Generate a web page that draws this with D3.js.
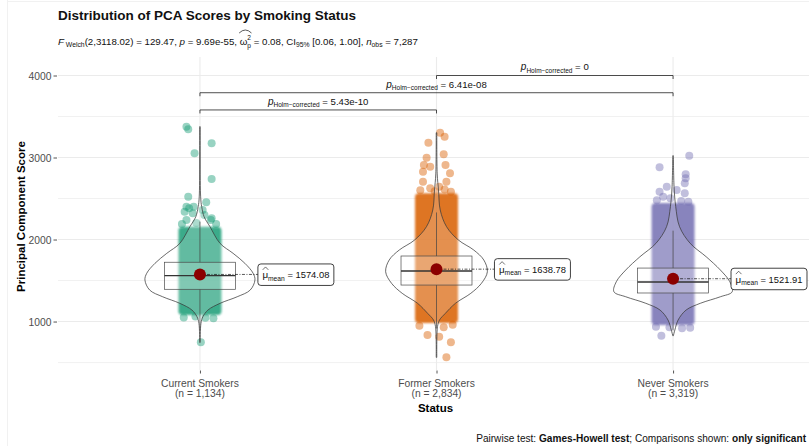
<!DOCTYPE html>
<html><head><meta charset="utf-8">
<script src="https://cdn.jsdelivr.net/npm/d3@7"></script>
<style>
body{margin:0;background:#fff}
svg{display:block}
text{font-family:"Liberation Sans",Arial,Helvetica,sans-serif;white-space:pre}
</style>
</head><body>
<svg id="chart" width="809" height="446"></svg>
<script>
// ---------------- DATA ----------------
const categories = ["Current Smokers", "Former Smokers", "Never Smokers"];
const groupN = ["1,134", "2,834", "3,319"];
const groupColors = ["#1b9e77", "#d95f02", "#7570b3"];
const means = [1574.08, 1638.78, 1521.91];
const meanLabels = ["1574.08", "1638.78", "1521.91"];
const medians = [1559, 1616, 1482];
const q1 = [1393, 1445, 1348];
const q3 = [1723, 1799, 1652];
const minVals = [746, 563, 827];
const maxVals = [3376, 3302, 3022];
// dense core of the jittered points (value range)
const coreLo = [1079, 982, 958];
const coreHi = [2156, 2563, 2445];
const yTicks = [1000, 2000, 3000, 4000];
const yMinorTicks = [500, 1500, 2500, 3500];
const yLimits = [409, 4250];

// violin profiles: [value, relative density]
const violinCurrent = [[746,0.005],[978,0.017],[1059,0.05],[1140,0.135],[1222,0.34],[1302,0.63],[1384,0.85],[1506,0.93],[1588,0.9],[1710,0.76],[1832,0.56],[1953,0.34],[2156,0.17],[2278,0.07],[2400,0.03],[2520,0.012],[3376,0.005]];
const violinFormer = [[563,0.005],[937,0.017],[1018,0.05],[1100,0.15],[1222,0.32],[1344,0.58],[1466,0.76],[1607,0.86],[1750,0.8],[1872,0.63],[1994,0.37],[2156,0.17],[2360,0.063],[2604,0.034],[2800,0.012],[3302,0.005]];
const violinNever = [[827,0.005],[896,0.03],[1018,0.085],[1140,0.22],[1222,0.46],[1302,0.8],[1363,1.0],[1485,0.96],[1628,0.8],[1790,0.56],[1953,0.29],[2156,0.11],[2400,0.045],[2644,0.017],[3022,0.005]];

// sparse points outside the dense core: [value, jitter fraction (-1..1)]
const pointsCurrent = [[3376,-0.75],[3344,-0.65],[3173,0.65],[3051,-0.3],[2738,0.65],[2522,-0.65],[2454,0.35],[2400,-0.75],[2380,-0.6],[2400,-0.35],[2339,-0.85],[2320,-0.4],[2238,-0.75],[2360,0.15],[2238,0.6],[2258,0.65],[2299,0.25],[2190,-1.0],[2190,0.9],[2200,-0.2],[1050,-0.9],[1040,0.75],[1060,-0.25],[1045,0.3],[746,0.05]];
const pointsFormer = [[3302,0.2],[3254,0.45],[3180,-0.45],[3039,0.4],[2998,-0.55],[2909,-0.7],[2888,-0.35],[2909,0.5],[2807,0.75],[2827,-0.75],[2705,-0.75],[2705,0.55],[2624,-0.35],[2583,0.8],[2600,-0.9],[2644,0.15],[2610,0.45],[2590,-0.1],[950,-0.95],[835,-0.5],[815,0.15],[930,0.4],[960,0.9],[746,0.8],[563,0.55]];
const pointsNever = [[3022,0.9],[2880,-0.75],[2795,0.7],[2746,0.7],[2685,0.65],[2644,-0.35],[2604,0.2],[2583,-0.75],[2563,0.65],[2461,0.85],[2522,-0.55],[2480,-0.9],[2502,-0.15],[2470,0.45],[827,-0.65],[917,0.5],[930,-0.2],[925,0.95],[935,-0.95]];

// pairwise comparisons
const pairFrom = ["Current Smokers", "Current Smokers", "Former Smokers"];
const pairTo = ["Former Smokers", "Never Smokers", "Never Smokers"];
const pairP = ["5.43e-10", "6.41e-08", "0"];
const pairY = [3580, 3790, 4000];

const violins = [violinCurrent, violinFormer, violinNever];
const points = [pointsCurrent, pointsFormer, pointsNever];

// ---------------- LAYOUT ----------------
const svg = d3.select("#chart");
const panel = {left: 58, right: 815, top: 57, bottom: 370};
const FONT = '"Liberation Sans",Arial,Helvetica,sans-serif';

const x = d3.scalePoint().domain(categories).range([panel.left, panel.right]).padding(0.6);
const y = d3.scaleLinear().domain(yLimits).range([panel.bottom, 55]);
const step = x.step();
const violinHalf = 0.25 * step;
const boxHalf = 0.15 * step;
const jitterHalf = 18;

const defs = svg.append("defs");
defs.append("filter").attr("id", "soft").attr("x", "-20%").attr("y", "-5%").attr("width", "140%").attr("height", "110%")
  .append("feGaussianBlur").attr("stdDeviation", 0.9);

// faint outer frame of the screenshot
svg.append("line").attr("x1", 7.5).attr("x2", 7.5).attr("y1", 0).attr("y2", 446).attr("stroke", "#f1f1f1");
svg.append("line").attr("x1", 7.5).attr("x2", 809).attr("y1", 1.5).attr("y2", 1.5).attr("stroke", "#f1f1f1");

// rich text helper
function rich(parent, px, py, parts, anchor, fill) {
  const g = parent.append("g");
  let cx = 0; const pos = [];
  parts.forEach(p => {
    const t = g.append("text")
      .attr("x", cx).attr("y", p.dy || 0)
      .attr("xml:space", "preserve")
      .attr("font-size", p.size)
      .attr("font-style", p.italic ? "italic" : "normal")
      .attr("font-weight", p.bold ? "bold" : "normal")
      .attr("fill", fill || "#000")
      .text(p.t);
    const w = t.node().getComputedTextLength();
    pos.push({x: cx, w: w});
    if (!p.noAdv) cx += w;
  });
  const off = anchor === "middle" ? -cx / 2 : anchor === "end" ? -cx : 0;
  g.attr("transform", `translate(${px + off},${py})`);
  return {g: g, width: cx, pos: pos, left: px + off};
}

// grid
const grid = svg.append("g");
grid.selectAll(".ymin").data(yMinorTicks).join("line")
  .attr("x1", panel.left).attr("x2", panel.right)
  .attr("y1", d => y(d)).attr("y2", d => y(d))
  .attr("stroke", "#efefef").attr("stroke-width", 0.9);
grid.selectAll(".ymaj").data(yTicks).join("line")
  .attr("x1", panel.left).attr("x2", panel.right)
  .attr("y1", d => y(d)).attr("y2", d => y(d))
  .attr("stroke", "#ebebeb").attr("stroke-width", 1.1);
grid.selectAll(".xmaj").data(categories).join("line")
  .attr("x1", d => x(d)).attr("x2", d => x(d))
  .attr("y1", panel.top).attr("y2", panel.bottom)
  .attr("stroke", "#ebebeb").attr("stroke-width", 1.1);

// axes
const yAxis = svg.append("g").attr("transform", `translate(${panel.left - 1},0)`)
  .call(d3.axisLeft(y).tickValues(yTicks).tickFormat(d3.format("d")).tickSize(3.5).tickPadding(2));
yAxis.select(".domain").remove();
yAxis.selectAll(".tick line").attr("stroke", "#555");
yAxis.selectAll(".tick text").attr("fill", "#4d4d4d").attr("font-size", 10.3).attr("font-family", FONT).attr("dy", "0.34em");

const xAxis = svg.append("g").attr("transform", `translate(0,${panel.bottom + 0.5})`)
  .call(d3.axisBottom(x).tickSize(3).tickFormat(""));
xAxis.select(".domain").remove();
xAxis.selectAll(".tick line").attr("stroke", "#555");
categories.forEach((c, i) => {
  const t = svg.append("text").attr("x", x(c)).attr("y", 386.5)
    .attr("text-anchor", "middle").attr("font-size", 10.3).attr("fill", "#4d4d4d");
  t.append("tspan").attr("x", x(c)).text(c);
  t.append("tspan").attr("x", x(c)).attr("dy", 10.5).text(`(n = ${groupN[i]})`);
});

// axis titles
svg.append("text").attr("x", (panel.left + panel.right) / 2 - 1).attr("y", 411.5)
  .attr("text-anchor", "middle").attr("font-size", 11.5).attr("font-weight", "bold").text("Status");
svg.append("text").attr("transform", `translate(24.5,${(55 + panel.bottom) / 2 + 4}) rotate(-90)`)
  .attr("text-anchor", "middle").attr("font-size", 11.5).attr("font-weight", "bold").text("Principal Component Score");

// groups
const marks = svg.append("g");
categories.forEach((c, i) => {
  const cx = x(c);
  const col = groupColors[i];
  const g = marks.append("g");
  // dense core of jittered points
  g.append("rect").attr("x", cx - jitterHalf - 3.5).attr("width", 2 * (jitterHalf + 3.5))
    .attr("y", y(coreHi[i])).attr("height", y(coreLo[i]) - y(coreHi[i]))
    .attr("rx", 4).attr("fill", col).attr("opacity", 0.86).attr("filter", "url(#soft)");
  // sparse points
  g.selectAll(".pt").data(points[i]).join("circle")
    .attr("cx", d => cx + d[1] * jitterHalf).attr("cy", d => y(d[0]))
    .attr("r", 4).attr("fill", col).attr("fill-opacity", 0.45);
  // violin
  const area = d3.area()
    .y(d => y(d[0]))
    .x0(d => cx - Math.max(d[1] * violinHalf, 0.3))
    .x1(d => cx + Math.max(d[1] * violinHalf, 0.3))
    .curve(d3.curveCatmullRom.alpha(0.5));
  g.append("path").attr("d", area(violins[i]))
    .attr("fill", "#fff").attr("fill-opacity", 0.2)
    .attr("stroke", "#3a3a3a").attr("stroke-width", 0.75);
  // box plot
  const iqr = q3[i] - q1[i];
  const wHi = Math.min(maxVals[i], q3[i] + 1.5 * iqr);
  const wLo = Math.max(minVals[i], q1[i] - 1.5 * iqr);
  g.append("line").attr("x1", cx).attr("x2", cx).attr("y1", y(q3[i])).attr("y2", y(wHi))
    .attr("stroke", "#444").attr("stroke-width", 0.7);
  g.append("line").attr("x1", cx).attr("x2", cx).attr("y1", y(q1[i])).attr("y2", y(wLo))
    .attr("stroke", "#444").attr("stroke-width", 0.7);
  g.append("rect").attr("x", cx - boxHalf).attr("width", 2 * boxHalf)
    .attr("y", y(q3[i])).attr("height", y(q1[i]) - y(q3[i]))
    .attr("fill", "#fff").attr("fill-opacity", 0.2)
    .attr("stroke", "#4a4a4a").attr("stroke-width", 0.7);
  g.append("line").attr("x1", cx - boxHalf).attr("x2", cx + boxHalf)
    .attr("y1", y(medians[i])).attr("y2", y(medians[i]))
    .attr("stroke", "#333").attr("stroke-width", 1.3);

  // mean label
  const my = y(means[i]);
  const lx = cx + 0.245 * step;
  g.append("line").attr("x1", cx).attr("x2", lx).attr("y1", my).attr("y2", my)
    .attr("stroke", "#111").attr("stroke-width", 0.7).attr("stroke-dasharray", "3,1.5,1,1.5");
  g.append("circle").attr("cx", cx).attr("cy", my).attr("r", 6).attr("fill", "#8b0000");
  const lg = g.append("g");
  const box = lg.append("rect");
  const rt = rich(lg, lx + 4.5, my + 4, [
    {t: "\u03bc", size: 9.8},
    {t: "mean", size: 6.7, dy: 2.2},
    {t: " = " + meanLabels[i], size: 9.4}
  ], "start", "#111");
  const mu = rt.pos[0];
  rt.g.append("path")
    .attr("d", `M${mu.x + 0.3},${-8.6} L${mu.x + mu.w / 2 + 0.3},${-11.5} L${mu.x + mu.w + 0.3},${-8.6}`)
    .attr("fill", "none").attr("stroke", "#111").attr("stroke-width", 0.6);
  box.attr("x", lx).attr("y", my - 10.5).attr("width", rt.width + 9).attr("height", 21.5)
    .attr("rx", 3).attr("fill", "#fff").attr("stroke", "#111").attr("stroke-width", 0.8);
});

// pairwise brackets
const br = svg.append("g");
pairP.forEach((p, i) => {
  const x1 = x(pairFrom[i]), x2 = x(pairTo[i]), by = y(pairY[i]);
  br.append("path")
    .attr("d", `M${x1},${by + 3.5} L${x1},${by} L${x2},${by} L${x2},${by + 3.5}`)
    .attr("fill", "none").attr("stroke", "#222").attr("stroke-width", 0.8);
  rich(br, (x1 + x2) / 2, by - 5.2, [
    {t: "p", size: 10, italic: true},
    {t: "Holm\u2212corrected", size: 6.5, dy: 2.2},
    {t: " = " + p, size: 9.6}
  ], "middle", "#111");
});

// title + subtitle
svg.append("text").attr("x", panel.left).attr("y", 19.5)
  .attr("font-size", 13.5).attr("font-weight", "bold").attr("fill", "#111")
  .text("Distribution of PCA Scores by Smoking Status");

const sub = rich(svg, panel.left, 44.5, [
  {t: "F", size: 9.8, italic: true},
  {t: " Welch", size: 6.8, dy: 2.5},
  {t: "(2,3118.02) = 129.47, ", size: 9.7},
  {t: "p", size: 9.8, italic: true},
  {t: " = 9.69e-55, ", size: 9.7},
  {t: "\u03c9", size: 9.8},
  {t: "2", size: 6.6, dy: -4.5, noAdv: true},
  {t: "p", size: 6.6, dy: 3},
  {t: " = 0.08, CI", size: 9.7},
  {t: "95%", size: 6.8, dy: 2.5},
  {t: " [0.06, 1.00], ", size: 9.7},
  {t: "n", size: 9.8, italic: true},
  {t: "obs", size: 6.8, dy: 2.5},
  {t: " = 7,287", size: 9.7}
], "start", "#111");
const om = sub.pos[5], pp = sub.pos[7];
sub.g.append("path")
  .attr("d", `M${om.x - 0.5},${-11.5} Q${(om.x + pp.x + pp.w) / 2},${-17.5} ${pp.x + pp.w + 0.5},${-11.5}`)
  .attr("fill", "none").attr("stroke", "#111").attr("stroke-width", 0.7);

// caption (kept fully inside the picture)
rich(svg, 806, 441.5, [
  {t: "Pairwise test: ", size: 10.1},
  {t: "Games-Howell test", size: 10.1, bold: true},
  {t: "; Comparisons shown: ", size: 10.1},
  {t: "only significant", size: 10.1, bold: true}
], "end", "#111");
</script>
</body></html>
